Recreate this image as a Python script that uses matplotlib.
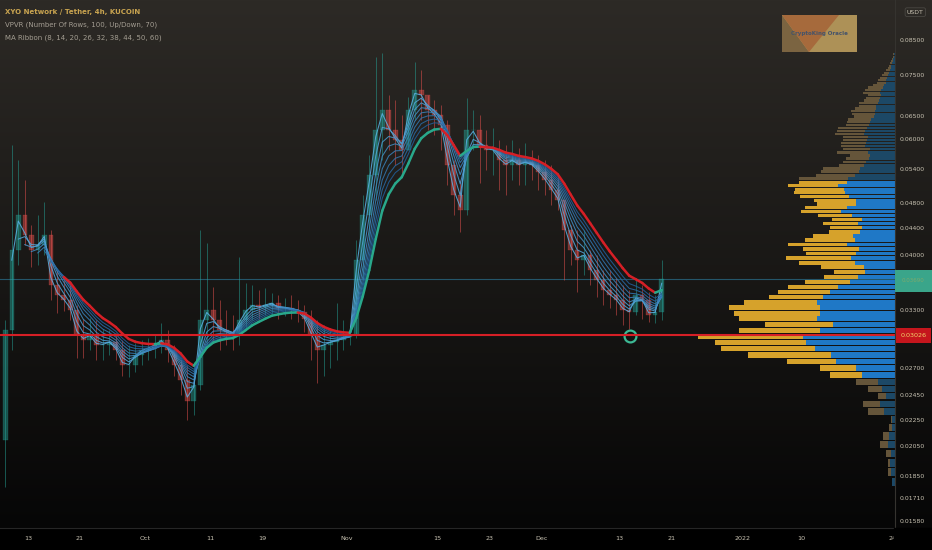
import numpy as np
import pandas as pd
import matplotlib
matplotlib.use("Agg")
import matplotlib.pyplot as plt
import matplotlib.dates as mdates
from matplotlib.collections import LineCollection
from matplotlib.patches import Rectangle, Polygon
from matplotlib.colors import to_rgb

plt.rcParams["font.family"] = ["DejaVu Sans"]

W, H = 932, 550

# ── data: daily bars ────────────────────────────────────────────────────────
start_day = "2021-09-09"
first_open = 0.0210
high = [0.0319, 0.0589, 0.0559, 0.0521, 0.0445, 0.0461, 0.0482, 0.0437, 0.0380, 0.0367,
        0.0361, 0.0337, 0.0321, 0.0322, 0.0319, 0.0310, 0.0308, 0.0305, 0.0298, 0.0293,
        0.0295, 0.0298, 0.0300, 0.0303, 0.0316, 0.0308, 0.0293, 0.0278, 0.0273, 0.0276,
        0.0437, 0.0418, 0.0358, 0.0342, 0.0331, 0.0325, 0.0398, 0.0363, 0.0361, 0.0355,
        0.0357, 0.0351, 0.0348, 0.0345, 0.0348, 0.0342, 0.0337, 0.0331, 0.0319, 0.0314,
        0.0308, 0.0339, 0.0319, 0.0314, 0.0422, 0.0494, 0.0569, 0.0801, 0.0812, 0.0701,
        0.0689, 0.0654, 0.0696, 0.0787, 0.0765, 0.0701, 0.0689, 0.0677, 0.0643, 0.0559,
        0.0521, 0.0694, 0.0666, 0.0654, 0.0621, 0.0625, 0.0599, 0.0589, 0.0599, 0.0583,
        0.0593, 0.0579, 0.0569, 0.0559, 0.0549, 0.0530, 0.0486, 0.0445, 0.0437, 0.0437,
        0.0408, 0.0401, 0.0380, 0.0380, 0.0370, 0.0361, 0.0355, 0.0370, 0.0361, 0.0352,
        0.0348, 0.0394]
low = [0.0178, 0.0288, 0.0387, 0.0415, 0.0384, 0.0387, 0.0401, 0.0342, 0.0327, 0.0330,
       0.0319, 0.0280, 0.0280, 0.0288, 0.0278, 0.0278, 0.0283, 0.0278, 0.0263, 0.0262,
       0.0266, 0.0273, 0.0278, 0.0280, 0.0285, 0.0276, 0.0263, 0.0246, 0.0225, 0.0229,
       0.0250, 0.0293, 0.0295, 0.0288, 0.0293, 0.0288, 0.0293, 0.0308, 0.0319, 0.0321,
       0.0325, 0.0325, 0.0321, 0.0324, 0.0321, 0.0317, 0.0306, 0.0278, 0.0256, 0.0263,
       0.0270, 0.0278, 0.0288, 0.0293, 0.0300, 0.0367, 0.0422, 0.0486, 0.0559, 0.0579,
       0.0549, 0.0534, 0.0579, 0.0643, 0.0643, 0.0621, 0.0610, 0.0579, 0.0512, 0.0461,
       0.0434, 0.0461, 0.0579, 0.0516, 0.0540, 0.0530, 0.0503, 0.0494, 0.0521, 0.0512,
       0.0512, 0.0521, 0.0503, 0.0494, 0.0477, 0.0469, 0.0367, 0.0387, 0.0352, 0.0374,
       0.0361, 0.0346, 0.0337, 0.0333, 0.0325, 0.0314, 0.0310, 0.0325, 0.0321, 0.0317,
       0.0316, 0.0319]
close = [0.0308, 0.0408, 0.0461, 0.0430, 0.0408, 0.0415, 0.0430, 0.0361, 0.0348, 0.0342,
         0.0331, 0.0303, 0.0298, 0.0303, 0.0293, 0.0293, 0.0296, 0.0288, 0.0273, 0.0273,
         0.0283, 0.0288, 0.0290, 0.0293, 0.0298, 0.0288, 0.0273, 0.0259, 0.0241, 0.0254,
         0.0319, 0.0331, 0.0319, 0.0308, 0.0306, 0.0303, 0.0319, 0.0331, 0.0337, 0.0334,
         0.0337, 0.0339, 0.0333, 0.0333, 0.0331, 0.0328, 0.0321, 0.0303, 0.0288, 0.0293,
         0.0296, 0.0298, 0.0301, 0.0303, 0.0394, 0.0461, 0.0530, 0.0621, 0.0666, 0.0621,
         0.0599, 0.0579, 0.0666, 0.0714, 0.0701, 0.0666, 0.0654, 0.0631, 0.0549, 0.0494,
         0.0469, 0.0621, 0.0621, 0.0589, 0.0579, 0.0579, 0.0559, 0.0549, 0.0559, 0.0549,
         0.0555, 0.0549, 0.0536, 0.0521, 0.0503, 0.0486, 0.0437, 0.0408, 0.0394, 0.0401,
         0.0380, 0.0367, 0.0355, 0.0348, 0.0342, 0.0331, 0.0328, 0.0348, 0.0342, 0.0325,
         0.0328, 0.0369]

ma_periods = [8, 14, 20, 26, 32, 38, 44, 50, 60]   # in 4h bars

# VPVR rows, bottom -> top (arbitrary volume units)
vp_total = [3, 7, 7, 9, 15, 12, 6, 4, 27, 32, 17, 27, 39, 65, 75, 108, 147, 174, 180, 197,
            156, 130, 156, 161, 166, 151, 126, 117, 107, 90, 71, 61, 74, 96, 109, 89, 92, 107, 90, 82,
            66, 65, 72, 63, 77, 94, 90, 78, 81, 95, 101, 100, 107, 96, 96, 79, 74, 72, 56, 52,
            49, 45, 58, 52, 54, 54, 52, 52, 60, 58, 57, 49, 48, 47, 41, 43, 44, 40, 36, 36,
            31, 29, 27, 32, 30, 27, 22, 18, 17, 15, 13, 11, 9, 7, 6, 5, 4, 3, 2, 2]
vp_up = [3, 4, 5, 4, 7, 6, 3, 3, 11, 15, 9, 13, 17, 33, 39, 59, 64, 80, 89, 92,
         75, 62, 78, 75, 75, 78, 72, 65, 57, 45, 37, 30, 31, 40, 44, 39, 36, 48, 40, 42,
         35, 33, 37, 33, 43, 54, 48, 39, 39, 46, 50, 51, 57, 48, 47, 40, 36, 35, 31, 29,
         26, 25, 27, 25, 30, 29, 28, 27, 31, 30, 28, 26, 25, 24, 21, 20, 20, 19, 19, 17,
         16, 15, 14, 15, 14, 12, 11, 9, 9, 8, 7, 6, 5, 4, 4, 3, 2, 2, 1, 1]
va_rows = (13, 53)          # value-area rows (70 %)
poc_price = 0.03026
circle_day, circle_price = "2021-12-14 14:00", 0.0302
cur_box = (0.0352, 0.0381)

price_ticks = [0.085, 0.075, 0.065, 0.060, 0.054, 0.048, 0.044, 0.040, 0.033,
               0.027, 0.0245, 0.0225, 0.0205, 0.0185, 0.0171, 0.0158]
date_ticks = ["2021-09-13", "2021-09-21", "2021-10-01", "2021-10-11", "2021-10-19",
              "2021-11-01", "2021-11-15", "2021-11-23", "2021-12-01", "2021-12-13",
              "2021-12-21", "2022-01-01", "2022-01-10", "2022-01-24"]
date_labels = ["13", "21", "Oct", "11", "19", "Nov", "15", "23", "Dec", "13",
               "21", "2022", "10", "24"]

x_range = ("2021-09-08 16:30", "2022-01-24 09:30")
y_range = (0.01543, 0.0978)

UP, DOWN = "#26a69a", "#ef5350"
TXT = "#c9c3b3"


def px(x0, y0, w, h):
    """pixel box (top-left origin) -> figure fraction rect"""
    return [x0 / W, 1 - (y0 + h) / H, w / W, h / H]


fig = plt.figure(figsize=(W / 100, H / 100), dpi=100)

# ── background gradient ────────────────────────────────────────────────────
bg = fig.add_axes([0, 0, 1, 1], zorder=-10)
t = np.clip(np.arange(H) / 528, 0, 1)[:, None]
top_c, bot_c = np.array([45, 42, 38]) / 255, np.array([6, 6, 6]) / 255
grad = top_c + (bot_c - top_c) * t
grad[528:] = 0
bg.imshow(grad[:, None, :], aspect="auto", extent=[0, 1, 0, 1])
bg.set_axis_off()

# ── main chart ─────────────────────────────────────────────────────────────
ax = fig.add_axes(px(0, 0, 895, 528))
ax.patch.set_alpha(0)
ax.set_yscale("log")

days = pd.date_range(start_day, periods=len(close), freq="D") + pd.Timedelta(hours=12)
xs = mdates.date2num(days.to_pydatetime())
o = np.array([first_open] + close[:-1])
c = np.array(close)
hi, lo = np.array(high), np.array(low)
is_up = c >= o

for i in range(len(c)):
    col = UP if is_up[i] else DOWN
    ax.vlines(xs[i], lo[i], hi[i], color=col, lw=0.7, alpha=0.5, zorder=2)
    b0, b1 = min(o[i], c[i]), max(o[i], c[i])
    ax.bar(xs[i], b1 - b0, bottom=b0, width=0.7, color=col, alpha=0.45,
           edgecolor=col, lw=0.3, zorder=2)

# MA ribbon (periods are 4h bars -> days / 6)
cl = pd.Series(close)
fast_c, slow_c = np.array(to_rgb("#5cb3e6")), np.array(to_rgb("#215f9c"))
for i, p in enumerate(ma_periods):
    n = p / 6
    ema = cl.ewm(span=n, adjust=False, min_periods=int(np.ceil(n))).mean().values
    if p == ma_periods[-1]:
        ok = ~np.isnan(ema)
        xx, yy = xs[ok], ema[ok]
        segs = [[(xx[k], yy[k]), (xx[k + 1], yy[k + 1])] for k in range(len(xx) - 1)]
        cols = ["#29a88b" if yy[k + 1] >= yy[k] else "#d61f26" for k in range(len(xx) - 1)]
        ax.add_collection(LineCollection(segs, colors=cols, lw=1.8, zorder=4,
                                         capstyle="round"))
    else:
        f = i / (len(ma_periods) - 2)
        ax.plot(xs, ema, color=fast_c + (slow_c - fast_c) * f, lw=0.75, alpha=0.85, zorder=3)

last_price = close[-1]
ax.axhline(last_price, color="#24566a", lw=0.8, zorder=1)
ax.plot(mdates.date2num(pd.Timestamp(circle_day)), circle_price, marker="o", ms=8.5,
        mfc="none", mec="#3cb894", mew=1.6, zorder=6)

ax.set_xlim(mdates.date2num(pd.Timestamp(x_range[0])), mdates.date2num(pd.Timestamp(x_range[1])))
ax.set_ylim(*y_range)
ax.set_xticks(mdates.date2num(pd.to_datetime(date_ticks)))
ax.set_xticklabels(date_labels)
ax.tick_params(axis="x", length=0, pad=6, labelsize=4.6, colors=TXT)
ax.tick_params(axis="y", which="both", left=False, labelleft=False)
for s in ["top", "right", "left"]:
    ax.spines[s].set_visible(False)
ax.spines["bottom"].set_color("#262626")

# ── volume profile ─────────────────────────────────────────────────────────
vax = ax.twiny()
tot, up = np.array(vp_total), np.array(vp_up)
edges = np.linspace(lo.min(), hi.max(), len(tot) + 1)
row_h = edges[1] - edges[0]
rows = np.arange(len(tot))
in_va = (rows >= va_rows[0]) & (rows <= va_rows[1])
up_cols = ["#1f78c6" if v else "#1c4866" for v in in_va]
dn_cols = ["#d6a22b" if v else "#65553a" for v in in_va]
vax.barh(edges[:-1] + row_h * 0.08, up, height=row_h * 0.84, left=0, align="edge",
         color=up_cols, lw=0)
vax.barh(edges[:-1] + row_h * 0.08, tot - up, height=row_h * 0.84, left=up, align="edge",
         color=dn_cols, lw=0)
vax.axhline(poc_price, color="#d61f26", lw=1.5, zorder=5)
vax.set_xlim(tot.max() / 0.22, 0)
vax.set_ylim(*y_range)
vax.set_axis_off()

# ── price scale ────────────────────────────────────────────────────────────
pax = fig.add_axes(px(895, 0, 37, 528))
pax.patch.set_alpha(0)
pax.set_yscale("log")
pax.set_ylim(*y_range)
pax.set_xlim(0, 1)
pax.set_xticks([])
pax.tick_params(axis="y", which="both", left=False, labelleft=False)
for s in ["top", "right", "bottom"]:
    pax.spines[s].set_visible(False)
pax.spines["left"].set_color("#35332f")
tr = pax.get_yaxis_transform()
for p in price_ticks:
    pax.text(0.12, p, f"{p:.5f}", transform=tr, ha="left", va="center",
             fontsize=4.4, color=TXT)
pax.add_patch(Rectangle((0, cur_box[0]), 1, cur_box[1] - cur_box[0],
                        color="#3aa58a", lw=0, zorder=3))
pax.text(0.5, np.sqrt(cur_box[0] * cur_box[1]), f"{last_price:.5f}", transform=tr,
         ha="center", va="center", fontsize=4, color="#e0b040", alpha=0.4, zorder=4)
pax.text(0.5, poc_price, f"{poc_price:.5f}", transform=tr, ha="center", va="center",
         fontsize=4.6, color="#f2d46b", zorder=4,
         bbox=dict(boxstyle="square,pad=0.75", fc="#c5161d", ec="none"))
pax.text(0.55, 0.977, "USDT", transform=pax.transAxes, ha="center", va="center",
         fontsize=4.4, color=TXT,
         bbox=dict(boxstyle="round,pad=0.3", fc="none", ec="#4a4843", lw=0.6))

# cover the date label that runs under the price scale
fig.add_artist(Rectangle((894 / W, 0), 38 / W, 22 / H, transform=fig.transFigure,
                         color="black", zorder=5))

# ── legend header ──────────────────────────────────────────────────────────
fig.text(5 / W, 1 - 12 / H, "XYO Network / Tether, 4h, KUCOIN", fontsize=5,
         color="#c9a450", fontweight="semibold", va="center")
fig.text(5 / W, 1 - 25 / H, "VPVR (Number Of Rows, 100, Up/Down, 70)", fontsize=5,
         color="#a39d92", va="center")
fig.text(5 / W, 1 - 38 / H, "MA Ribbon (8, 14, 20, 26, 32, 38, 44, 50, 60)", fontsize=5,
         color="#a39d92", va="center")

# ── logo ───────────────────────────────────────────────────────────────────
lax = fig.add_axes(px(782, 15, 75, 37))
lax.set_xlim(0, 1)
lax.set_ylim(0, 1)
lax.add_patch(Rectangle((0, 0), 1, 1, color="#ad9157", lw=0))
lax.add_patch(Polygon([(0, 1), (0, 0), (0.36, 0)], color="#7b6441", lw=0))
lax.add_patch(Polygon([(0, 1), (0.76, 1), (0.36, 0)], color="#a66a3c", lw=0))
lax.text(0.5, 0.5, "CryptoKing Oracle", ha="center", va="center", fontsize=4,
         color="#44536a", fontweight="bold")
lax.set_axis_off()

fig.savefig("out.png", dpi=100)
